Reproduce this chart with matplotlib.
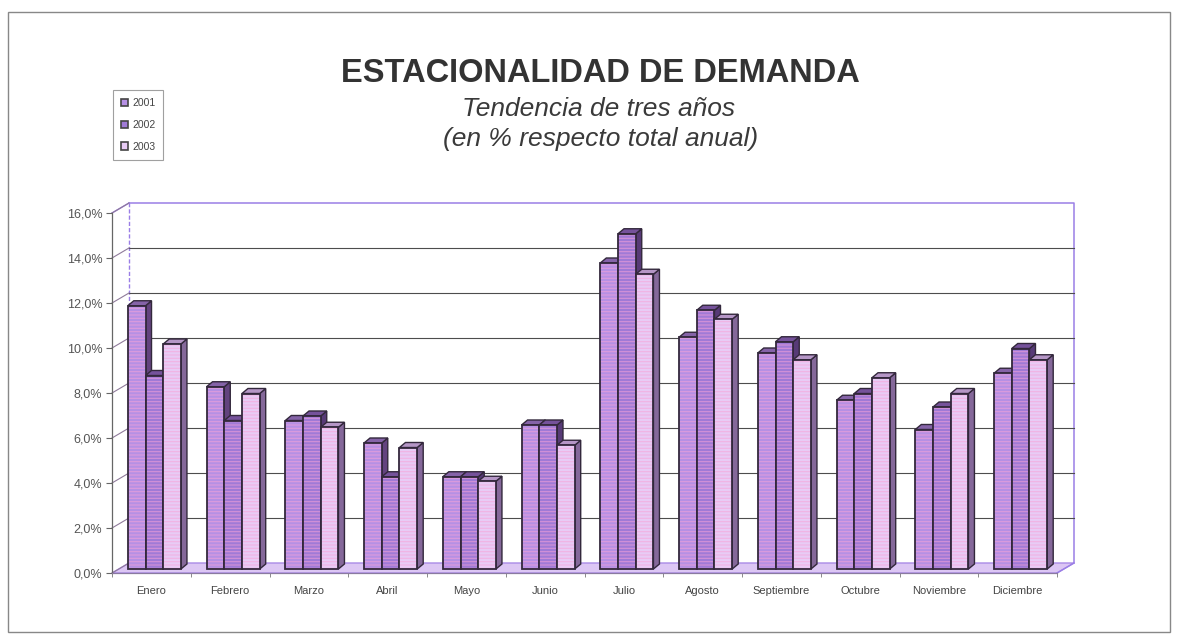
import matplotlib
matplotlib.use('Agg')
import matplotlib.pyplot as plt
from matplotlib.patches import Polygon, Rectangle, Patch
import numpy as np

plt.rcParams['font.family'] = ['Liberation Sans', 'DejaVu Sans']
plt.rcParams['hatch.linewidth'] = 0.8

months = ['Enero', 'Febrero', 'Marzo', 'Abril', 'Mayo', 'Junio', 'Julio',
          'Agosto', 'Septiembre', 'Octubre', 'Noviembre', 'Diciembre']
years = ['2001', '2002', '2003']
v2001 = [11.7, 8.1, 6.6, 5.6, 4.1, 6.4, 13.6, 10.3, 9.6, 7.5, 6.2, 8.7]
v2002 = [8.6, 6.6, 6.8, 4.1, 4.1, 6.4, 14.9, 11.5, 10.1, 7.8, 7.2, 9.8]
v2003 = [10.0, 7.8, 6.3, 5.4, 3.9, 5.5, 13.1, 11.1, 9.3, 8.5, 7.8, 9.3]
yticks = [0, 2, 4, 6, 8, 10, 12, 14, 16]
ytick_labels = ['0,0%', '2,0%', '4,0%', '6,0%', '8,0%', '10,0%', '12,0%', '14,0%', '16,0%']

series = [v2001, v2002, v2003]
front_colors = ['#b690e4', '#a07ad6', '#e8cbf5']
side_colors = ['#63437f', '#573a77', '#85689a']
top_colors = ['#8563a8', '#75529b', '#b596c6']
stripe_color = '#f7a3d8'
edge = '#33283c'

W, H = 1178, 634
fig = plt.figure(figsize=(W / 100, H / 100), dpi=100)
ax_left, ax_right = 112 / W, 1057 / W
ax_bottom, ax_top = 1 - 573 / H, 1 - 213 / H
ax = fig.add_axes([ax_left, ax_bottom, ax_right - ax_left, ax_top - ax_bottom])

n = len(months)
ax.set_xlim(-0.5, n - 0.5)
ax.set_ylim(0, 16)

px_x = (ax_right - ax_left) * W / n        # pixels per category
px_y = (ax_top - ax_bottom) * H / 16       # pixels per unit value
wall_dx, wall_dy = 17 / px_x, 10 / px_y    # back wall offset (3D depth)
bar_dx, bar_dy = 6 / px_x, 5 / px_y        # bar depth
bar_w = 0.225
bar_shift = 3 / px_x                       # bars sit slightly behind front plane
bar_lift = 4 / px_y

# floor
floor = Polygon([(-0.5, 0), (n - 0.5, 0), (n - 0.5 + wall_dx, wall_dy), (-0.5 + wall_dx, wall_dy)],
                closed=True, facecolor='#dcc6f4', edgecolor='#a98ae6', lw=1.0, zorder=1, clip_on=False)
ax.add_patch(floor)

# back wall border
ax.plot([-0.5 + wall_dx, -0.5 + wall_dx], [wall_dy, 16 + wall_dy],
        color='#9a7ee6', lw=1.0, ls=(0, (3, 1.5)), zorder=1, clip_on=False)
ax.plot([-0.5 + wall_dx, n - 0.5 + wall_dx, n - 0.5 + wall_dx],
        [16 + wall_dy, 16 + wall_dy, wall_dy],
        color='#9a7ee6', lw=1.1, zorder=1, clip_on=False)
ax.plot([-0.5, -0.5 + wall_dx], [16, 16 + wall_dy], color='#9a7ee6', lw=1.0, zorder=1, clip_on=False)
ax.plot([n - 0.5, n - 0.5 + wall_dx], [0, wall_dy], color='#9a7ee6', lw=1.0, zorder=1, clip_on=False)

# gridlines on back wall and side wall
for t in yticks[1:-1]:
    ax.plot([-0.5 + wall_dx, n - 0.5 + wall_dx], [t + wall_dy, t + wall_dy],
            color='#4d4d4d', lw=0.8, zorder=1, clip_on=False)
for t in yticks:
    ax.plot([-0.5, -0.5 + wall_dx], [t, t + wall_dy], color='#8f7a9a', lw=0.8, zorder=1, clip_on=False)

# bars (front face lifted by the depth projection)
x = np.arange(n)
for i, vals in enumerate(series):
    xs = x + (i - 1) * bar_w + bar_shift
    z = 3 + i
    for xc, v in zip(xs, vals):
        xl, xr = xc - bar_w / 2, xc + bar_w / 2
        yt = v + bar_lift
        side = Polygon([(xr, bar_lift), (xr, yt), (xr + bar_dx, yt + bar_dy), (xr + bar_dx, bar_lift + bar_dy)],
                       closed=True, facecolor=side_colors[i], edgecolor=edge, lw=1.0, zorder=z)
        top = Polygon([(xl, yt), (xr, yt), (xr + bar_dx, yt + bar_dy), (xl + bar_dx, yt + bar_dy)],
                      closed=True, facecolor=top_colors[i], edgecolor=edge, lw=1.0, zorder=z)
        ax.add_patch(side)
        ax.add_patch(top)
    ax.bar(xs, vals, bottom=bar_lift, width=bar_w, color=front_colors[i], edgecolor='none', zorder=z)
    ax.bar(xs, vals, bottom=bar_lift, width=bar_w, color='none', edgecolor=stripe_color, hatch='-----',
           linewidth=0, zorder=z, alpha=0.6)
    ax.bar(xs, vals, bottom=bar_lift, width=bar_w, color='none', edgecolor=edge, linewidth=1.3, zorder=z)

# axes styling
for s in ['top', 'right']:
    ax.spines[s].set_visible(False)
ax.spines['left'].set_color('#666666')
ax.spines['bottom'].set_color('#8a7aa0')
ax.spines['left'].set_linewidth(0.9)
ax.spines['bottom'].set_linewidth(0.9)
ax.set_yticks(yticks)
ax.set_yticklabels(ytick_labels, fontsize=9, color='#555555')
ax.tick_params(axis='y', length=4, color='#666666', pad=3)
ax.set_xticks(x)
ax.set_xticklabels(months, fontsize=8, color='#444444')
ax.tick_params(axis='x', which='major', length=0, pad=9)
ax.set_xticks(np.arange(n + 1) - 0.5, minor=True)
ax.tick_params(axis='x', which='minor', length=3, color='#777777')
ax.set_facecolor('none')

# titles
fig.text(600 / W, 1 - 82 / H, 'ESTACIONALIDAD DE DEMANDA', ha='center', va='baseline',
         fontsize=23.5, fontweight='bold', color='#333333')
fig.text(599 / W, 1 - 116 / H, 'Tendencia de tres años', ha='center', va='baseline',
         fontsize=19, style='italic', color='#3a3a3a')
fig.text(601 / W, 1 - 146 / H, '(en % respecto total anual)', ha='center', va='baseline',
         fontsize=19, style='italic', color='#3a3a3a')

# legend
handles = [Patch(facecolor=front_colors[i], edgecolor='#444444', lw=1.2) for i in range(3)]
leg = fig.legend(handles, years, loc='upper left', bbox_to_anchor=(113 / W, 1 - 90 / H),
                 fontsize=7.5, frameon=True, handlelength=0.7, handleheight=0.7,
                 handletextpad=0.4, labelspacing=1.15, borderpad=0.75, borderaxespad=0,
                 fancybox=False)
leg.get_frame().set_edgecolor('#888888')
leg.get_frame().set_linewidth(0.8)
for t in leg.get_texts():
    t.set_color('#444444')

# outer border
fig.patches.append(Rectangle((8 / W, 2 / H), 1162 / W, 620 / H, transform=fig.transFigure,
                             fill=False, edgecolor='#888888', lw=1.0))

fig.savefig('out.png', dpi=100)
